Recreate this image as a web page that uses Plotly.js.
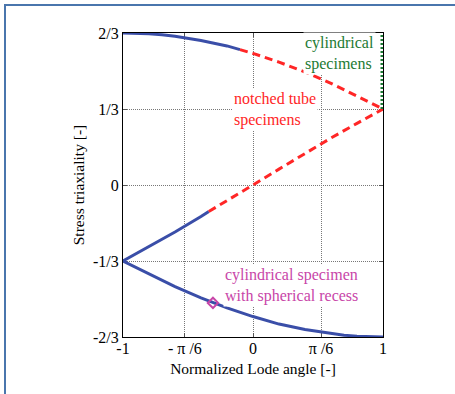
<!DOCTYPE html>
<html>
<head>
<meta charset="utf-8">
<script src="https://cdn.plot.ly/plotly-3.0.1.min.js"></script>
<style>
  html, body { margin: 0; padding: 0; background: #fff; }
  #wrap { position: relative; width: 455px; height: 394px; }
  #chart { position: absolute; left: 0; top: 0; width: 455px; height: 394px; }
  #frame { position: absolute; left: 4px; top: 4px; width: 460px; height: 400px;
           border-left: 2px solid #4a76ad; border-top: 2px solid #4a76ad; pointer-events: none; }
</style>
</head>
<body>
<div id="wrap">
  <div id="chart"></div>
  <div id="frame"></div>
</div>
<script>
// Normalized Lode angle (x) and stress triaxiality (y) for the plane-stress envelope
const upperSolidX = [-1, -0.9, -0.8, -0.7, -0.6, -0.4, -0.2, -0.1];
const upperSolidY = [0.6667, 0.6658, 0.663, 0.6585, 0.652, 0.634, 0.610, 0.594];
const upperDashX = [-0.1, 0, 0.2, 0.4, 0.6, 0.8, 1];
const upperDashY = [0.594, 0.577, 0.539, 0.4955, 0.446, 0.390, 0.3333];

const midSolidX = [-1, -0.8, -0.6, -0.4, -0.34];
const midSolidY = [-0.3333, -0.2705, -0.206, -0.1386, -0.116];
const midDashX = [-0.34, -0.2, 0, 0.2, 0.4, 0.6, 0.8, 1];
const midDashY = [-0.116, -0.0697, 0, 0.0697, 0.1386, 0.206, 0.2705, 0.3333];

const lowerX = [-1, -0.8, -0.6, -0.4, -0.2, 0, 0.2, 0.4, 0.6, 0.7, 0.8, 0.9, 1];
const lowerY = [-0.3333, -0.390, -0.446, -0.4955, -0.539, -0.577, -0.610, -0.634, -0.652, -0.6585, -0.663, -0.6658, -0.6667];

const cylX = [1, 1];
const cylY = [0.3333, 0.6667];

const recessX = [-0.308];
const recessY = [-0.517];

const xTickVals = [-1, -Math.PI / 6, 0, Math.PI / 6, 1];
const xTickText = ['-1', '- π /6', '0', 'π /6', '1'];
const yTickVals = [-2 / 3, -1 / 3, 0, 1 / 3, 2 / 3];
const yTickText = ['-2/3', '-1/3', '0', '1/3', '2/3'];

const BLUE = '#3a4ea8';
const RED = '#ff2626';
const GREEN = '#1d7a33';
const MAGENTA = '#c845a8';
const FONT = 'Liberation Serif, serif';

const solid = { color: BLUE, width: 3 };
const dashed = { color: RED, width: 3, dash: '8px,5px' };

const traces = [
  { x: upperSolidX, y: upperSolidY, mode: 'lines', line: solid },
  { x: upperDashX, y: upperDashY, mode: 'lines', line: dashed },
  { x: midSolidX, y: midSolidY, mode: 'lines', line: solid },
  { x: midDashX, y: midDashY, mode: 'lines', line: dashed },
  { x: lowerX, y: lowerY, mode: 'lines', line: solid },
  { x: cylX, y: cylY, mode: 'lines', line: { color: GREEN, width: 5, dash: '2px,2px' } },
  { x: recessX, y: recessY, mode: 'markers',
    marker: { symbol: 'diamond-open', size: 8, color: MAGENTA, line: { width: 2, color: MAGENTA } } }
];
traces.forEach(t => { t.showlegend = false; t.hoverinfo = 'skip'; t.cliponaxis = false; });

const axisCommon = {
  showline: true, linecolor: '#000', linewidth: 1, mirror: 'ticks',
  ticks: 'inside', ticklen: 4, tickcolor: '#555', layer: 'below traces',
  showgrid: true, gridcolor: '#777', griddash: '1px,1px', gridwidth: 1,
  zeroline: false, tickfont: { family: FONT, size: 16, color: '#000' }
};

// Text labels sit on a white box so the grid does not run through them
const label = (x, y, anchor, text, color) => ({
  x: x, y: y, xref: 'x', yref: 'y', xanchor: anchor, yanchor: 'middle', align: 'left',
  showarrow: false, text: text, bgcolor: '#fff', borderpad: 1,
  font: { family: FONT, size: 16, color: color }
});

const layout = {
  width: 455, height: 394,
  margin: { l: 123, r: 72, t: 33, b: 57 },
  paper_bgcolor: '#fff', plot_bgcolor: '#fff',
  font: { family: FONT, size: 16, color: '#000' },
  xaxis: Object.assign({}, axisCommon, {
    range: [-1, 1], tickmode: 'array', tickvals: xTickVals, ticktext: xTickText,
    ticklabelstandoff: -3,
    title: { text: 'Normalized Lode angle [-]', font: { family: FONT, size: 15.5 }, standoff: 6 }
  }),
  yaxis: Object.assign({}, axisCommon, {
    range: [-2 / 3, 2 / 3], tickmode: 'array', tickvals: yTickVals, ticktext: yTickText,
    title: { text: 'Stress triaxiality [-]', font: { family: FONT, size: 15.5 }, standoff: 4 }
  }),
  annotations: [
    label(0.946, 0.575, 'right', 'cylindrical<br>specimens', GREEN),
    label(-0.162, 0.331, 'left', 'notched tube<br>specimens', RED),
    label(-0.231, -0.441, 'left', 'cylindrical specimen<br>with spherical recess', MAGENTA)
  ]
};

Plotly.newPlot('chart', traces, layout, { staticPlot: true, displayModeBar: false });
</script>
</body>
</html>
